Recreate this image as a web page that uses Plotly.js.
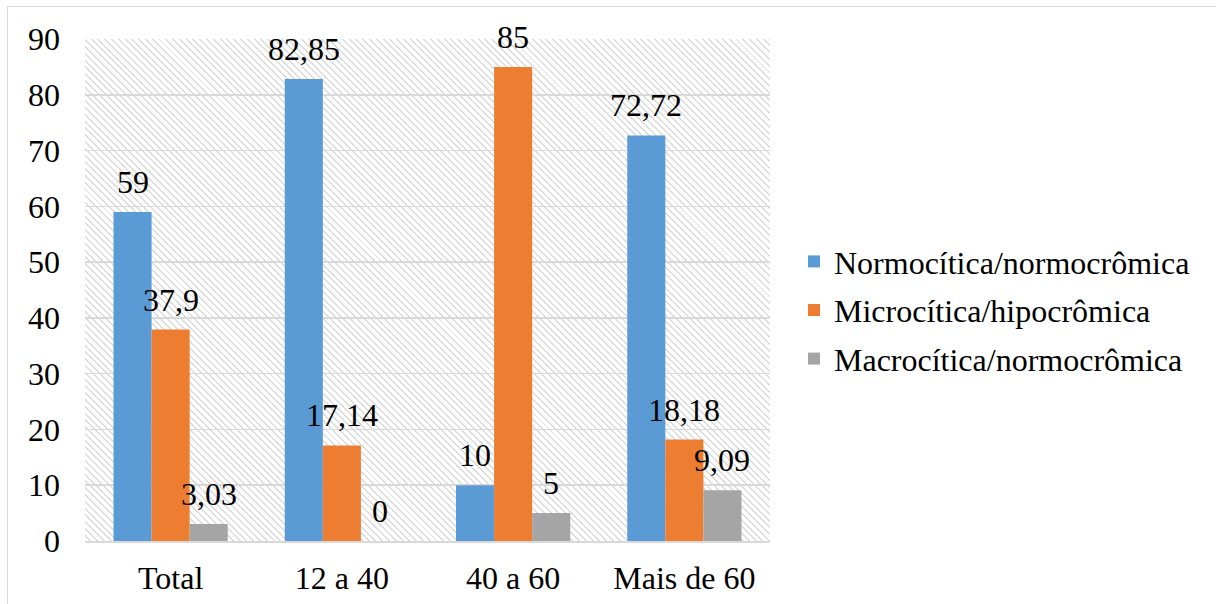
<!DOCTYPE html>
<html>
<head>
<meta charset="utf-8">
<script src="https://cdn.plot.ly/plotly-3.0.1.min.js"></script>
<style>
  html, body { margin: 0; padding: 0; background: #fff; }
  #wrap { position: relative; width: 1216px; height: 604px; overflow: hidden; }
  #frame { position: absolute; left: 7px; top: 6px; width: 1300px; height: 700px;
           border-top: 1px solid #d9d9d9; border-left: 1px solid #d9d9d9; box-sizing: border-box; }
  #hatch { position: absolute; left: 85px; top: 39px; width: 685px; height: 502px;
           background: repeating-linear-gradient(45deg, #ffffff 0px, #ffffff 3.4px, #dcdcdc 3.4px, #dcdcdc 4.8px); }
  #chart { position: absolute; left: 0; top: 0; width: 1216px; height: 604px; }
</style>
</head>
<body>
<div id="wrap">
  <div id="frame"></div>
  <div id="hatch"></div>
  <div id="chart"></div>
</div>
<script>
const categories = ["Total", "12 a 40", "40 a 60", "Mais de 60"];
const seriesNames = ["Normocítica/normocrômica", "Microcítica/hipocrômica", "Macrocítica/normocrômica"];
const normo = [59, 82.85, 10, 72.72];
const micro = [37.9, 17.14, 85, 18.18];
const macro = [3.03, 0, 5, 9.09];
const colors = ["#5b9bd5", "#ed7d31", "#a5a5a5"];
const yTicks = [0, 10, 20, 30, 40, 50, 60, 70, 80, 90];

const fmt = v => String(v).replace('.', ',');
const allSeries = [normo, micro, macro];
const font = { family: "Liberation Serif", size: 32, color: "#000" };

const W = 1216, H = 604;
const margin = { l: 85, r: 446, t: 39, b: 63, pad: 0 };
const bargap = 0.333;
const plotW = W - margin.l - margin.r;
const barPx = plotW / categories.length * (1 - bargap) / allSeries.length;

const traces = allSeries.map((vals, i) => ({
  type: "bar",
  name: seriesNames[i],
  x: categories,
  y: vals,
  marker: { color: colors[i], line: { width: 0 } },
  legendgroup: "g" + i,
  hoverinfo: "skip"
}));

const annotations = [];
allSeries.forEach((vals, i) => {
  vals.forEach((v, j) => {
    annotations.push({
      x: categories[j], y: v, xref: "x", yref: "y",
      text: fmt(v), showarrow: false,
      xanchor: "center", yanchor: "bottom",
      xshift: (i - (allSeries.length - 1) / 2) * barPx,
      yshift: 10,
      font: font
    });
  });
});

const layout = {
  width: W,
  height: H,
  margin: margin,
  paper_bgcolor: "rgba(0,0,0,0)",
  plot_bgcolor: "rgba(0,0,0,0)",
  barmode: "group",
  bargap: bargap,
  bargroupgap: 0,
  font: font,
  showlegend: true,
  annotations: annotations,
  legend: {
    x: 1.035, xanchor: "left", y: 0.46, yanchor: "middle",
    font: font, tracegroupgap: 4, bgcolor: "rgba(0,0,0,0)"
  },
  xaxis: {
    showgrid: false,
    showline: true, linecolor: "#d9d9d9", linewidth: 1.5,
    ticks: "", tickfont: font, ticklabelstandoff: 8,
    fixedrange: true
  },
  yaxis: {
    range: [0, 90],
    tickvals: yTicks,
    ticktext: yTicks.map(String),
    showgrid: true, gridcolor: "#d9d9d9", gridwidth: 1.5,
    zeroline: false, showline: false,
    ticks: "", tickfont: font, ticklabelstandoff: 24,
    fixedrange: true
  }
};

Plotly.newPlot("chart", traces, layout, { displayModeBar: false, staticPlot: true });
</script>
</body>
</html>
